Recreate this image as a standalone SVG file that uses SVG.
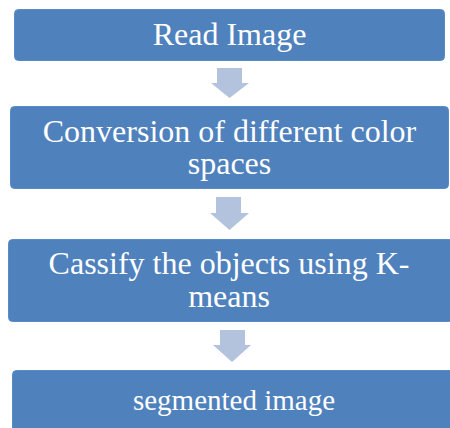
<svg xmlns="http://www.w3.org/2000/svg" width="450" height="428" viewBox="0 0 450 428">
<style>
.box{fill:#4F81BD;stroke:#5B8BC6;stroke-width:1}
.t{font-family:'Liberation Serif','DejaVu Serif',serif;fill:#FFFFFF;text-anchor:middle;font-size:32px}
.arr{fill:#B3C3DE}
</style>
<rect width="450" height="428" fill="#FFFFFF"/>
<g id="node-read-image">
<rect class="box" x="14.5" y="9.5" width="430" height="51" rx="4"/>
<text class="t" x="229.5" y="45" font-family="Liberation Serif, serif">Read Image</text>
</g>
<g id="node-conversion">
<rect class="box" x="10.5" y="106.5" width="438" height="82" rx="4"/>
<text class="t" x="229.5" y="142" font-family="Liberation Serif, serif">Conversion of different color</text>
<text class="t" x="229.5" y="174" font-family="Liberation Serif, serif">spaces</text>
</g>
<g id="node-classify">
<rect class="box" x="8.5" y="239.5" width="445" height="82" rx="4"/>
<text class="t" x="229" y="274" font-family="Liberation Serif, serif">Cassify the objects using K-</text>
<text class="t" x="229" y="307" font-family="Liberation Serif, serif">means</text>
</g>
<g id="node-segmented">
<rect class="box" x="12.5" y="370.5" width="445" height="70" rx="4"/>
<text class="t" x="234" y="410" style="font-size:29px" font-family="Liberation Serif, serif">segmented image</text>
</g>
<g id="connectors">
<polygon class="arr" points="217,68 242,68 242,83 249,83 229.5,98 211,83 217,83"/>
<polygon class="arr" points="216,197 241,197 241,213 249,213 229.5,230 210,213 216,213"/>
<polygon class="arr" points="220,330 245,330 245,345 251,345 232,362 213,345 220,345"/>
</g>
</svg>
